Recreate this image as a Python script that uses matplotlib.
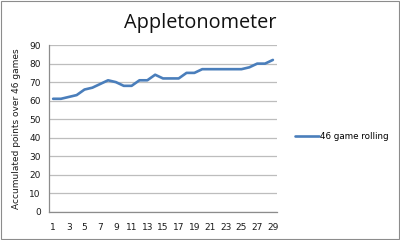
import matplotlib
matplotlib.use("Agg")
import matplotlib.pyplot as plt
from matplotlib.patches import Rectangle

games = list(range(1, 30))
rolling = [61, 61, 62, 63, 66, 67, 69, 71, 70, 68, 68, 71, 71, 74, 72,
           72, 72, 75, 75, 77, 77, 77, 77, 77, 77, 78, 80, 80, 82]
xtick_labels = [str(i) for i in range(1, 30, 2)]
yticks = list(range(0, 91, 10))

fig = plt.figure(figsize=(4, 2.4), dpi=100)
fig.patches.append(Rectangle((0.002, 0.004), 0.995, 0.992, transform=fig.transFigure,
                             fill=False, edgecolor="#8c8c8c", linewidth=0.8))
ax = fig.add_axes([0.123, 0.118, 0.569, 0.694])

ax.plot(games, rolling, color="#4a7ebb", linewidth=1.9, solid_joinstyle="round",
        solid_capstyle="round", label="46 game rolling")

ax.set_xlim(0.5, 29.5)
ax.set_ylim(0, 90)
ax.set_yticks(yticks)
ax.set_xticks(list(range(1, 30, 2)))
ax.set_xticklabels(xtick_labels)
ax.tick_params(axis="both", length=0, labelsize=6.5, colors="#1a1a1a", pad=6)
ax.tick_params(axis="x", pad=8)
ax.grid(axis="y", color="#bdbdbd", linewidth=0.9)
ax.set_axisbelow(True)
for s in ["top", "right"]:
    ax.spines[s].set_visible(False)
for s in ["left", "bottom"]:
    ax.spines[s].set_color("#8c8c8c")
    ax.spines[s].set_linewidth(0.9)

ax.set_ylabel("Accumulated points over 46 games", fontsize=6.45, color="#1a1a1a", labelpad=6)
fig.text(0.5, 0.905, "Appletonometer", ha="center", va="center", fontsize=14.3,
         family="Open Sans", color="#111111")

leg = ax.legend(loc="center left", bbox_to_anchor=(1.045, 0.45), frameon=False,
                fontsize=6.3, handlelength=2.7, handletextpad=0.2)

fig.savefig("out.png", dpi=100)
